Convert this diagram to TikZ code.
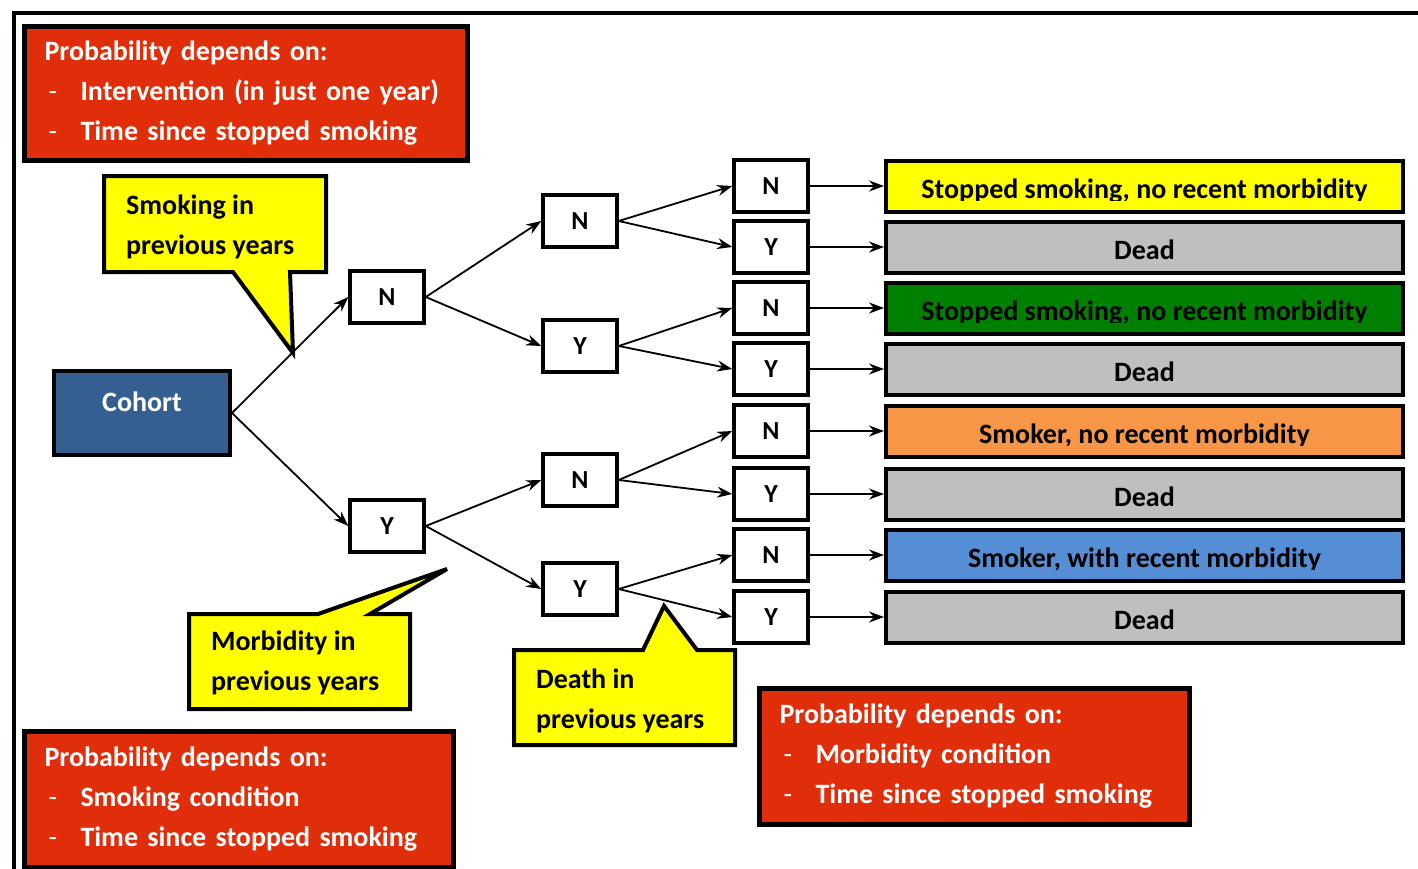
\documentclass[tikz,border=0pt]{standalone}
\usepackage{fontspec}
\setmainfont{Carlito}
\usetikzlibrary{arrows.meta}
\definecolor{probred}{RGB}{224,46,10}
\definecolor{noteyellow}{RGB}{255,255,0}
\definecolor{cohortblue}{RGB}{54,95,145}
\definecolor{deadgray}{RGB}{191,191,191}
\definecolor{stopgreen}{RGB}{0,128,0}
\definecolor{smokeorange}{RGB}{247,150,70}
\definecolor{morbblue}{RGB}{85,142,213}
\newcommand{\probitem}{\makebox[36pt][l]{\hspace{4pt}\mdseries -}}
\begin{document}
\begin{tikzpicture}[x=1pt,y=-1pt,>={Stealth[length=15pt,width=11pt]},
  font=\bfseries\fontsize{28}{40}\selectfont,
  yn/.style={draw,line width=3.5pt,fill=white,minimum width=74,minimum height=52,
    inner sep=0pt,font=\bfseries\fontsize{26}{30}\selectfont},
  outbox/.style={draw,line width=4pt,minimum width=517,minimum height=51,inner sep=0pt},
  outtext/.style={anchor=base,inner sep=0pt},
  probbox/.style={draw,line width=5pt,fill=probred,text=white,anchor=north west,
    align=left,inner xsep=20pt,inner ysep=0pt},
  note/.style={draw,line width=4pt,fill=noteyellow,line join=miter},
  notetext/.style={anchor=north west,align=left,inner sep=0pt},
  arr/.style={->,line width=1.8pt}]
\useasboundingbox (0,0) rectangle (1418,868);
% frame
\draw[line width=4pt] (14,890) -- (14,13) -- (1440,13);

% probability boxes
\node[probbox,minimum height=134,text width=403] (probtop) at (22,24)
  {Probability depends on:\\
   \probitem Intervention (in just one year)\\
   \probitem Time since stopped smoking};
\node[probbox,minimum height=136,text width=389] (probleft) at (22,729)
  {Probability depends on:\\
   \probitem Smoking condition\\
   \probitem Time since stopped smoking};
\node[probbox,minimum height=136,text width=390] (probright) at (757,686)
  {Probability depends on:\\
   \probitem Morbidity condition\\
   \probitem Time since stopped smoking};

% tree
\node[draw,line width=4pt,fill=cohortblue,text=white,minimum width=176,
  minimum height=84,text height=20pt,text depth=24pt] (cohort) at (142,413) {Cohort};
\node[yn] (s0) at (387,297) {N};
\node[yn] (s1) at (387,526) {Y};
\node[yn] (s0m0) at (580,221) {N};
\node[yn] (s0m1) at (580,346) {Y};
\node[yn] (s1m0) at (580,480) {N};
\node[yn] (s1m1) at (580,589) {Y};
\draw[arr] (cohort.east) -- (s0.west);
\draw[arr] (cohort.east) -- (s1.west);
\draw[arr] (s0.east) -- (s0m0.west);
\draw[arr] (s0.east) -- (s0m1.west);
\draw[arr] (s1.east) -- (s1m0.west);
\draw[arr] (s1.east) -- (s1m1.west);
\foreach \row/\py/\dlab/\col/\txt/\src in {
  1/186/N/noteyellow/{Stopped smoking, no recent morbidity}/s0m0,
  2/247/Y/deadgray/Dead/s0m0,
  3/308/N/stopgreen/{Stopped smoking, no recent morbidity}/s0m1,
  4/369/Y/deadgray/Dead/s0m1,
  5/431/N/smokeorange/{Smoker, no recent morbidity}/s1m0,
  6/494/Y/deadgray/Dead/s1m0,
  7/555/N/morbblue/{Smoker, with recent morbidity}/s1m1,
  8/617/Y/deadgray/Dead/s1m1}{
  \node[yn] (d\row) at (771,\py) {\dlab};
  \node[outbox,fill=\col] (out\row) at (1144.5,\py) {};
  \begin{scope}
    \clip ([shift={(2,2)}]out\row.north west) rectangle ([shift={(-2,-13)}]out\row.south east);
    \node[outtext] (txt\row) at ([shift={(0,-15)}]out\row.south) {\txt};
  \end{scope}
  \draw[arr] (\src.east) -- (d\row.west);
  \draw[arr] (d\row.east) -- (out\row.west);
}

% callouts
\draw[note] (104,176) -- (326,176) -- (326,272) -- (290,272) -- (293,353)
  -- (233,272) -- (104,272) -- cycle;
\node[notetext] (smoketxt) at (126,195) {Smoking in\\previous years};
\draw[note] (189,614) -- (318,614) -- (447,569) -- (370,614) -- (410,614)
  -- (410,709) -- (189,709) -- cycle;
\node[notetext] (morbtxt) at (211,631) {Morbidity in\\previous years};
\draw[note] (514,650) -- (643,650) -- (664,606) -- (697,650) -- (735,650)
  -- (735,745) -- (514,745) -- cycle;
\node[notetext] (deathtxt) at (536,669) {Death in\\previous years};
\end{tikzpicture}
\end{document}
